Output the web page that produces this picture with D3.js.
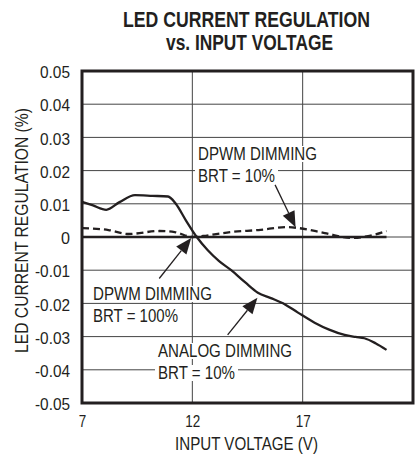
<!DOCTYPE html>
<html><head><meta charset="utf-8">
<script src="https://cdn.jsdelivr.net/npm/d3@7"></script>
<style>
body{margin:0;background:#fff;}
text{font-family:"Liberation Sans",Arial,sans-serif;fill:#231f20;}
</style></head><body>
<svg id="c" width="418" height="460"></svg>
<script>
const xTicks = [7, 12, 17];
const yTicks = [0.05,0.04,0.03,0.02,0.01,0,-0.01,-0.02,-0.03,-0.04,-0.05];
const yTickLabels = ["0.05","0.04","0.03","0.02","0.01","0","-0.01","-0.02","-0.03","-0.04","-0.05"];
// ANALOG DIMMING BRT = 10%
const analogV = [7.0, 7.5, 8.1, 8.7, 9.4, 10.2, 10.9, 11.25, 11.7, 12.2, 12.7, 13.2, 13.76, 14.4, 14.97, 15.56, 16.2, 16.77, 17.54, 18.2, 18.9, 19.4, 19.8, 20.3, 20.8];
const analogI = [0.0106, 0.0095, 0.0082, 0.0105, 0.0126, 0.0124, 0.0122, 0.0100, 0.0051, 0.0000, -0.0040, -0.0072, -0.0100, -0.0137, -0.0168, -0.0184, -0.0203, -0.0227, -0.0258, -0.0279, -0.0295, -0.0301, -0.0305, -0.0320, -0.0340];
// DPWM DIMMING BRT = 10%
const dpwm10V = [7.0, 8.2, 9.1, 10.5, 11.2, 12.0, 12.5, 13.0, 13.76, 15.0, 16.3, 16.8, 18.0, 19.2, 20.2, 20.8];
const dpwm10I = [0.0027, 0.0021, 0.0009, 0.0018, 0.0015, 0.0000, 0.0003, 0.0008, 0.0015, 0.0021, 0.0030, 0.0027, 0.0012, -0.0003, 0.0006, 0.0018];
// DPWM DIMMING BRT = 100%
const dpwm100V = [7.0, 20.8];
const dpwm100I = [0.0, 0.0];

const svg = d3.select("#c");
const x = d3.scaleLinear().domain([7, 22]).range([82, 413]);
const y = d3.scaleLinear().domain([-0.05, 0.05]).range([403, 71]);

function txt(parent, xx, yy, str, size, len, anchor, weight){
  const t = parent.append("text").attr("x",xx).attr("y",yy).text(str)
    .style("font-size",size+"px").attr("text-anchor",anchor||"start");
  if (weight) t.style("font-weight",weight);
  if (len) t.attr("textLength",len).attr("lengthAdjust","spacingAndGlyphs");
  return t;
}

// title
txt(svg, 246.5, 27, "LED CURRENT REGULATION", 21.5, 247, "middle", "bold");
txt(svg, 249.5, 50, "vs. INPUT VOLTAGE", 21.5, 167, "middle", "bold");

// grid
const g = svg.append("g");
g.selectAll(".hg").data(yTicks.slice(1,-1)).enter().append("line")
  .attr("x1",x.range()[0]).attr("x2",x.range()[1]).attr("y1",d=>y(d)).attr("y2",d=>y(d))
  .attr("stroke","#444").attr("stroke-width",1);
g.selectAll(".vg").data(xTicks.slice(1)).enter().append("line")
  .attr("y1",71).attr("y2",403).attr("x1",d=>x(d)).attr("x2",d=>x(d))
  .attr("stroke","#444").attr("stroke-width",1);

// axes
const yAxis = d3.axisLeft(y).tickValues(yTicks).tickFormat((d,i)=>yTickLabels[i]).tickSize(0).tickPadding(12);
const ya = svg.append("g").attr("transform","translate(82,0)").call(yAxis);
ya.select(".domain").remove();
ya.selectAll("text").style("font-size","16.5px").style("font-family",null)
  .attr("textLength",d=>{const s=yTickLabels[yTicks.indexOf(d)]; return s.length===1?9:(s[0]==="-"?35:30);})
  .attr("lengthAdjust","spacingAndGlyphs").attr("dy","0.4em");
const xAxis = d3.axisBottom(x).tickValues(xTicks).tickFormat(d3.format("d")).tickSize(0).tickPadding(12);
const xa = svg.append("g").attr("transform","translate(0,403)").call(xAxis);
xa.select(".domain").remove();
xa.selectAll("text").style("font-size","16.5px").style("font-family",null)
  .attr("textLength",d=>String(d).length*7.5).attr("lengthAdjust","spacingAndGlyphs");

txt(svg, 246.5, 450, "INPUT VOLTAGE (V)", 17.5, 143, "middle");
txt(svg, 0, 0, "LED CURRENT REGULATION (%)", 17.5, 245, "middle")
  .attr("transform","translate(28,230.5) rotate(-90)");

// curves
const line = d3.line().x(d=>x(d[0])).y(d=>y(d[1])).curve(d3.curveMonotoneX);
svg.append("path").datum(dpwm100V.map((v,i)=>[v,dpwm100I[i]])).attr("d",line)
  .attr("fill","none").attr("stroke","#231f20").attr("stroke-width",2.6);
svg.append("path").datum(dpwm10V.map((v,i)=>[v,dpwm10I[i]])).attr("d",line)
  .attr("fill","none").attr("stroke","#231f20").attr("stroke-width",2.3).attr("stroke-dasharray","7,4");
svg.append("path").datum(analogV.map((v,i)=>[v,analogI[i]])).attr("d",line)
  .attr("fill","none").attr("stroke","#231f20").attr("stroke-width",2.3);

// annotations
function label(lines, lens, xx, yy){
  lines.forEach((s,i)=>{
    const tt = txt(svg, xx, yy+i*22, s, 18, lens[i], "start");
    const b = tt.node().getBBox();
    svg.insert("rect", () => tt.node()).attr("x",b.x-3).attr("y",b.y+2).attr("width",b.width+6).attr("height",b.height-4).attr("fill","#fff");
  });
}
label(["DPWM DIMMING","BRT = 10%"], [119, 77], 198, 160);
label(["DPWM DIMMING","BRT = 100%"], [119, 85], 93, 300);
label(["ANALOG DIMMING","BRT = 10%"], [134, 77], 158, 357);

function arrow(x1,y1,x2,y2){
  const ang = Math.atan2(y2-y1,x2-x1);
  const L=16, W=6.5;
  const bx = x2 - L*Math.cos(ang), by = y2 - L*Math.sin(ang);
  svg.append("line").attr("x1",x1).attr("y1",y1).attr("x2",bx).attr("y2",by).attr("stroke","#231f20").attr("stroke-width",1.3);
  const p = [[x2,y2],[bx + W*Math.sin(ang), by - W*Math.cos(ang)],[bx - W*Math.sin(ang), by + W*Math.cos(ang)]];
  svg.append("polygon").attr("points",p.map(q=>q.join(",")).join(" ")).attr("fill","#231f20");
}
arrow(x(15.75), y(0.0157), x(16.68), y(0.0029));
arrow(x(10.5), y(-0.0125), x(11.95), y(-0.0003));
arrow(x(13.6), y(-0.0295), x(14.95), y(-0.0183));

// frame
svg.append("rect").attr("x",82).attr("y",71).attr("width",331).attr("height",332)
  .attr("fill","none").attr("stroke","#231f20").attr("stroke-width",3);
</script></body></html>
